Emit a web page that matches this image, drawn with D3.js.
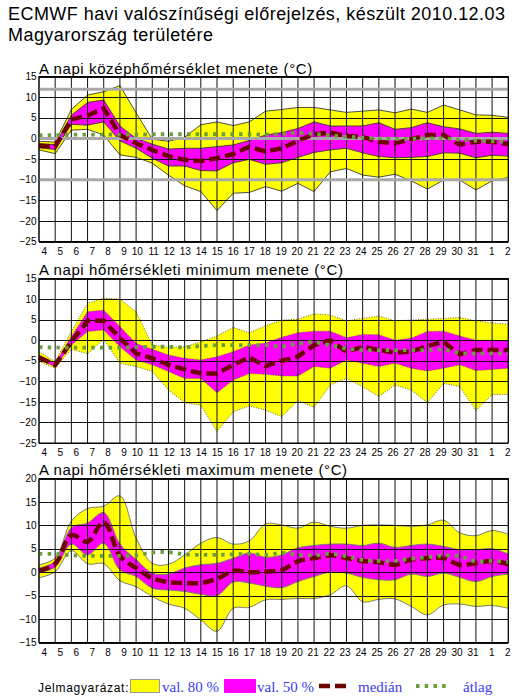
<!DOCTYPE html>
<html>
<head>
<meta charset="utf-8">
<script src="https://cdn.jsdelivr.net/npm/d3@7"></script>
<style>
  html, body { margin: 0; padding: 0; background: #fff; }
  svg { display: block; }
  text { font-family: "Liberation Sans", Arial, sans-serif; }
</style>
</head>
<body>
<svg id="chart" width="518" height="697"></svg>
<script>
// Forecast days: 4 Dec 2010 .. 2 Jan 2011
const days = ["4","5","6","7","8","9","10","11","12","13","14","15","16","17","18","19","20",
              "21","22","23","24","25","26","27","28","29","30","31","1","2"];

// Daily mean temperature (°C): 10/25/50/75/90 percentiles and climate mean
const meanP10 = [-2.8,-3.7,2.0,2.2,0.8,-4.0,-4.6,-6.0,-8.9,-11.5,-12.9,-17.5,-13.3,-13.1,-11.7,-12.8,-10.9,-12.9,-8.1,-7.3,-8.9,-9.4,-8.7,-10.3,-12.3,-10.1,-10.1,-12.5,-10.3,-9.5];
const meanP25 = [-2.3,-2.7,3.4,3.2,4.0,-0.6,-2.4,-4.8,-6.7,-6.7,-7.8,-7.9,-5.9,-5.1,-6.3,-5.9,-4.6,-3.4,-2.8,-2.4,-3.5,-4.4,-4.7,-4.6,-4.4,-3.5,-3.6,-4.7,-4.1,-4.3];
const meanMed = [-1.8,-2.0,4.6,5.5,7.3,0.8,-1.2,-2.8,-4.3,-5.2,-5.5,-4.8,-3.8,-2.0,-3.2,-2.4,-0.6,1.0,1.4,0.6,0.3,-0.8,-1.2,-0.2,0.8,0.8,-1.5,-0.8,-0.8,-1.4];
const meanP75 = [-1.3,-1.5,5.6,8.7,9.3,3.0,0.0,-1.4,-2.6,-2.4,-2.4,-2.0,-1.6,-0.5,0.8,1.4,2.4,4.0,3.0,3.0,3.0,3.8,2.2,2.6,3.8,2.8,2.3,1.2,1.5,1.2];
const meanP90 = [-0.7,-0.9,7.0,10.5,11.3,12.8,6.2,-0.2,-0.7,0.3,3.3,4.0,3.1,4.0,6.6,7.0,7.5,7.5,6.9,6.3,6.6,6.9,6.2,7.1,6.3,8.1,6.9,5.7,5.6,5.1];
const meanClim = [0.8,0.8,0.9,0.9,0.9,0.9,0.9,1.0,1.0,1.0,1.0,1.0,1.0,1.0,0.9,1.1,1.4,1.1,0.7,0.4,0.2,0.0,-0.1,-0.1,0.0,0.0,-0.3,-0.6,-0.7,-0.8];
// Highlighted reference levels on the mean-temperature panel
const meanRefLevels = [11.9, 0, -10];

// Daily minimum temperature (°C)
const minP10 = [-5.2,-6.8,-2.2,-3.3,0.2,-5.6,-6.4,-7.6,-12.1,-15.2,-15.8,-22.2,-17.4,-16.0,-17.0,-18.6,-14.7,-16.3,-10.9,-9.3,-11.3,-13.7,-10.9,-12.1,-15.2,-10.5,-11.3,-17.1,-13.2,-13.2];
const minP25 = [-4.8,-6.4,-1.2,2.1,2.5,-1.6,-4.8,-6.0,-7.6,-9.3,-9.3,-12.8,-9.7,-8.1,-8.3,-8.7,-8.7,-6.4,-6.8,-4.8,-5.6,-6.4,-5.6,-6.8,-7.5,-6.8,-6.0,-7.4,-7.1,-6.8];
const minMed = [-4.2,-6.0,-0.4,4.7,4.7,0.5,-3.2,-4.4,-6.0,-7.1,-8.1,-8.1,-6.0,-4.2,-6.3,-5.0,-4.0,-1.2,0.0,-2.8,-1.6,-2.4,-3.0,-2.8,-1.4,-0.4,-3.4,-2.4,-2.4,-2.4];
const minP75 = [-3.6,-5.6,0.9,6.9,7.3,3.3,-0.8,-2.2,-3.6,-4.4,-4.8,-4.0,-2.8,-1.2,-0.7,0.7,1.8,2.2,2.2,0.6,1.4,1.3,0.0,0.5,2.1,2.2,1.0,0.0,0.0,-0.2];
const minP90 = [-2.8,-5.2,2.1,9.0,10.2,10.0,6.9,-1.2,-1.7,-1.6,-0.4,1.0,3.1,1.8,3.5,4.9,5.1,6.4,6.1,4.7,5.3,5.9,4.7,4.9,5.1,5.3,5.5,4.7,4.2,3.9];
const minClim = [-1.7,-1.8,-1.8,-1.8,-1.8,-1.8,-1.7,-1.6,-1.6,-1.8,-1.4,-1.2,-1.2,-1.2,-1.2,-1.6,-0.8,-0.4,-1.2,-2.1,-2.4,-2.4,-2.4,-2.4,-2.4,-2.2,-3.2,-3.2,-3.2,-3.2];

// Daily maximum temperature (°C)
const maxP10 = [-1.2,0.1,4.6,1.8,1.8,-1.8,-3.1,-5.2,-6.8,-7.7,-10.2,-12.6,-7.7,-7.5,-5.9,-5.8,-5.6,-5.6,-4.8,-2.9,-6.3,-5.8,-5.7,-7.3,-9.1,-7.0,-6.8,-7.3,-7.1,-7.7];
const maxP25 = [-0.1,1.1,6.0,3.7,6.2,0.5,-0.9,-3.4,-3.8,-4.1,-4.7,-5.0,-2.1,-2.3,-3.0,-3.3,-2.0,-0.9,0.0,-0.2,-1.1,-1.6,-1.6,-0.4,-0.9,-0.2,-1.1,-2.0,-0.9,-0.4];
const maxMed = [0.3,1.8,7.9,6.5,10.7,3.5,0.9,-1.3,-2.1,-2.3,-2.3,-1.4,0.3,0.0,0.1,0.5,2.3,3.0,3.6,3.0,2.4,2.1,1.6,2.7,3.0,3.0,1.6,1.9,2.4,1.7];
const maxP75 = [0.9,2.3,9.5,10.5,12.7,6.0,2.7,-0.2,-0.4,0.9,1.6,1.9,3.0,4.1,3.2,3.7,5.2,5.7,6.0,6.0,5.7,6.2,5.3,5.7,6.0,5.5,4.8,4.8,5.0,3.9];
const maxP90 = [1.6,3.0,10.9,13.6,14.1,16.3,7.3,1.9,1.7,3.7,6.2,7.4,6.0,6.7,10.3,10.1,9.4,10.7,9.8,9.4,10.0,10.1,10.0,9.8,10.1,11.1,8.4,7.8,8.9,8.1];
const maxClim = [3.9,3.9,3.6,3.5,3.5,3.5,3.6,4.2,4.3,3.8,3.7,3.7,3.8,3.9,3.7,4.1,3.7,3.6,3.9,3.4,2.6,2.4,2.4,2.9,3.2,3.6,3.4,2.3,2.4,2.2];

const COLORS = {
  band80: "#ffff00",
  band50: "#ff00ff",
  median: "#6e0000",
  clim: "#6a9f3c",
  grid: "#111",
  legendText: "#3b3bf5"
};

const svg = d3.select("#chart");

// Main headline
svg.append("text").attr("x", 8).attr("y", 20)
  .style("font-size", "18px").style("letter-spacing", "0.45px")
  .text("ECMWF havi valószínűségi előrejelzés, készült 2010.12.03");
svg.append("text").attr("x", 8).attr("y", 41)
  .style("font-size", "18px").style("letter-spacing", "0.45px")
  .text("Magyarország területére");

const xLeft = 39, xRight = 508.3;
const x = d3.scaleLinear().domain([0, days.length - 1]).range([xLeft, xRight]);
// day labels sit slightly right of their grid lines, right-aligned
const xLab = d3.scaleLinear().domain([0, days.length - 1]).range([46.5, 510]);

const panels = [
  { title: "A napi középhőmérséklet menete (°C)", top: 76.5, bottom: 241.5, titleY: 73.5,
    domain: [-25, 15], p10: meanP10, p25: meanP25, med: meanMed, p75: meanP75, p90: meanP90, clim: meanClim,
    curve: d3.curveLinear, edge: { stroke: "#3a3a3a", width: 0.9, dash: null }, refs: meanRefLevels },
  { title: "A napi hőmérsékleti minimum menete (°C)", top: 278.5, bottom: 443, titleY: 275,
    domain: [-25, 15], p10: minP10, p25: minP25, med: minMed, p75: minP75, p90: minP90, clim: minClim,
    curve: d3.curveLinear, edge: { stroke: "#555", width: 0.9, dash: "1,1.5" }, refs: [] },
  { title: "A napi hőmérsékleti maximum menete (°C)", top: 478.5, bottom: 642.5, titleY: 475,
    domain: [-15, 20], p10: maxP10, p25: maxP25, med: maxMed, p75: maxP75, p90: maxP90, clim: maxClim,
    curve: d3.curveCatmullRom.alpha(0.5), edge: { stroke: "#7a7a7a", width: 1, dash: null }, refs: [] }
];

const idx = d3.range(days.length);

panels.forEach(p => {
  const g = svg.append("g");
  const y = d3.scaleLinear().domain(p.domain).range([p.bottom, p.top]);
  const yTicks = d3.range(p.domain[0], p.domain[1] + 0.001, 5);

  // 80% and 50% ranges
  const band = (lo, hi) => d3.area().curve(p.curve)
    .x(i => x(i)).y0(i => y(lo[i])).y1(i => y(hi[i]));
  g.append("path").attr("d", band(p.p10, p.p90)(idx)).attr("fill", COLORS.band80);
  g.append("path").attr("d", band(p.p25, p.p75)(idx)).attr("fill", COLORS.band50);

  const line = arr => d3.line().curve(p.curve).x(i => x(i)).y(i => y(arr[i]))(idx);
  [p.p10, p.p90, p.p25, p.p75].forEach(arr => {
    g.append("path").attr("d", line(arr)).attr("fill", "none")
      .attr("stroke", p.edge.stroke).attr("stroke-width", p.edge.width)
      .attr("stroke-dasharray", p.edge.dash);
  });

  // grid on top of the ranges
  const grid = g.append("g").attr("stroke", COLORS.grid).attr("stroke-width", 1).attr("fill", "none");
  grid.selectAll("line.v").data(idx).join("line").attr("class", "v")
    .attr("x1", i => x(i)).attr("x2", i => x(i))
    .attr("y1", p.top).attr("y2", p.bottom);
  grid.selectAll("line.h").data(yTicks).join("line").attr("class", "h")
    .attr("x1", xLeft).attr("x2", xRight)
    .attr("y1", v => Math.round(y(v)) + 0.5).attr("y2", v => Math.round(y(v)) + 0.5);

  // highlighted reference levels
  g.selectAll("line.ref").data(p.refs).join("line").attr("class", "ref")
    .attr("x1", xLeft).attr("x2", xRight)
    .attr("y1", v => y(v)).attr("y2", v => y(v))
    .attr("stroke", "#a9a9a9").attr("stroke-width", 3);

  // median (dashed) and climate mean (dotted)
  g.append("path").attr("d", line(p.med)).attr("fill", "none")
    .attr("stroke", COLORS.median).attr("stroke-width", 4.5).attr("stroke-dasharray", "11,5");
  g.append("path").attr("d", line(p.clim)).attr("fill", "none")
    .attr("stroke", COLORS.clim).attr("stroke-width", 3.8).attr("stroke-dasharray", "3.5,5.2");

  // frame
  g.append("rect").attr("x", xLeft).attr("y", p.top)
    .attr("width", xRight - xLeft).attr("height", p.bottom - p.top)
    .attr("fill", "none").attr("stroke", "#000").attr("stroke-width", 1);

  // axes labels
  const yAxis = d3.axisLeft(y).tickValues(yTicks).tickSize(0).tickPadding(2).tickFormat(d3.format("d"));
  const ya = g.append("g").attr("transform", `translate(${xLeft - 0.5},0)`).call(yAxis);
  ya.select(".domain").remove();
  ya.selectAll("text").style("font-size", "10px").style("font-family", "'Liberation Sans', Arial, sans-serif").attr("fill", "#000");

  const xAxis = d3.axisBottom(xLab).tickValues(idx).tickSize(0).tickPadding(6).tickFormat(i => days[i]);
  const xa = g.append("g").attr("transform", `translate(0,${p.bottom})`).call(xAxis);
  xa.select(".domain").remove();
  xa.selectAll("text").attr("text-anchor", "end").style("font-size", "10px")
    .style("font-family", "'Liberation Sans', Arial, sans-serif").attr("fill", "#000");

  // panel title
  g.append("text").attr("x", xLeft).attr("y", p.titleY)
    .style("font-size", "15px").style("letter-spacing", "0.6px").text(p.title);
});

// Legend
const lg = svg.append("g");
const legY = 692;
lg.append("text").attr("x", 38).attr("y", legY)
  .style("font-size", "12px").style("letter-spacing", "0.7px").text("Jelmagyarázat:");
lg.append("rect").attr("x", 130.5).attr("y", 679.5).attr("width", 29).attr("height", 13)
  .attr("fill", COLORS.band80).attr("stroke", "#9a9a9a");
lg.append("rect").attr("x", 224.5).attr("y", 679.5).attr("width", 31).attr("height", 13)
  .attr("fill", COLORS.band50).attr("stroke", "#ff00ff");
lg.append("line").attr("x1", 319).attr("x2", 351).attr("y1", 686).attr("y2", 686)
  .attr("stroke", COLORS.median).attr("stroke-width", 4.5).attr("stroke-dasharray", "11,5");
lg.append("line").attr("x1", 416).attr("x2", 446).attr("y1", 686).attr("y2", 686)
  .attr("stroke", COLORS.clim).attr("stroke-width", 3.8).attr("stroke-dasharray", "3.5,5.2");
const legendLabels = [["val. 80 %", 162], ["val. 50 %", 257], ["medián", 358], ["átlag", 463]];
lg.selectAll("text.leg").data(legendLabels).join("text").attr("class", "leg")
  .attr("x", d => d[1]).attr("y", legY)
  .style("font-family", "'Liberation Serif', 'Times New Roman', serif")
  .style("font-size", "15px").attr("fill", COLORS.legendText)
  .text(d => d[0]);
</script>
</body>
</html>
